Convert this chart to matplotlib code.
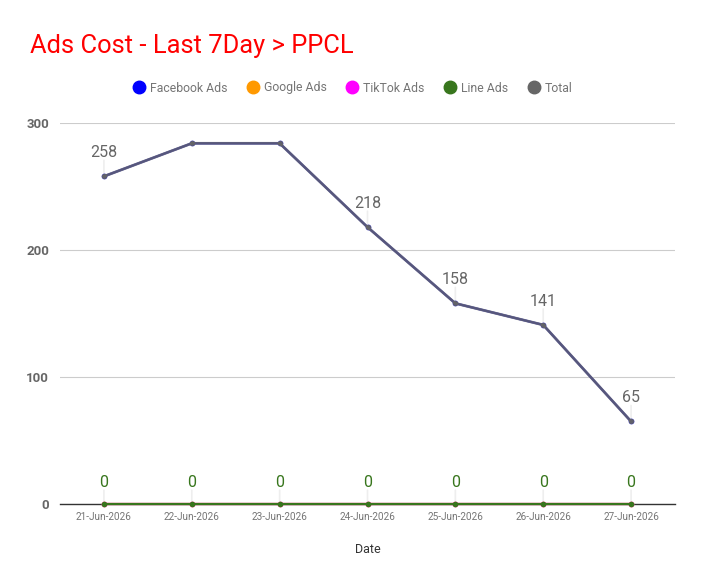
import matplotlib
matplotlib.use("Agg")
import matplotlib.pyplot as plt
from matplotlib.lines import Line2D

plt.rcParams['font.family'] = ['Roboto', 'DejaVu Sans']

dates = ["21-Jun-2026", "22-Jun-2026", "23-Jun-2026", "24-Jun-2026",
         "25-Jun-2026", "26-Jun-2026", "27-Jun-2026"]
facebook = [258, 284, 284, 218, 158, 141, 65]
google = [0, 0, 0, 0, 0, 0, 0]
tiktok = [0, 0, 0, 0, 0, 0, 0]
line_ads = [0, 0, 0, 0, 0, 0, 0]
total = [258, 284, 284, 218, 158, 141, 65]
total_labels = ["258", "", "", "218", "158", "141", "65"]
line_labels = ["0", "0", "0", "0", "0", "0", "0"]

series_names = ["Facebook Ads", "Google Ads", "TikTok Ads", "Line Ads", "Total"]
series_colors = ["#0000ff", "#ff9900", "#ff00ff", "#38761d", "#666666"]

fig = plt.figure(figsize=(7.04, 5.85), dpi=100)
ax = fig.add_axes([60/704, 81/585, 615/704, 381/585])

x = list(range(len(dates)))

ax.plot(x, facebook, color=series_colors[0], lw=1.6, marker='o', ms=3, zorder=3, clip_on=False)
ax.plot(x, google, color=series_colors[1], lw=1.6, marker='o', ms=3, zorder=3, clip_on=False)
ax.plot(x, tiktok, color=series_colors[2], lw=1.6, marker='o', ms=3, zorder=3, clip_on=False)
ax.plot(x, line_ads, color=series_colors[3], lw=1.6, marker='o', ms=3, zorder=4, clip_on=False)
ax.plot(x, total, color=series_colors[4], lw=2, marker='o', ms=3, alpha=0.85, zorder=4, clip_on=False)

# data labels with leader lines
for xi, v, lab in zip(x, total, total_labels):
    if lab:
        ax.annotate("", xy=(xi, v), xytext=(0, 11.5), textcoords='offset points',
                    arrowprops=dict(arrowstyle='-', color='#eeeeee', lw=1.2,
                                    shrinkA=0, shrinkB=0), zorder=2)
        ax.annotate(lab, xy=(xi, v), xytext=(0, 11.5), textcoords='offset points',
                    ha='center', va='bottom', fontsize=11.5, color='#666666')
for xi, v, lab in zip(x, line_ads, line_labels):
    ax.annotate("", xy=(xi, v), xytext=(0, 10), textcoords='offset points',
                arrowprops=dict(arrowstyle='-', color='#eeeeee', lw=1.2,
                                shrinkA=0, shrinkB=0), zorder=2)
    ax.annotate(lab, xy=(xi, v), xytext=(0, 10), textcoords='offset points',
                ha='center', va='bottom', fontsize=11.5, color='#38761d')

ax.set_xlim(-0.5, len(dates) - 0.5)
ax.set_ylim(0, 300)
ax.set_yticks([0, 100, 200, 300])
ax.set_xticks(x)
ax.set_xticklabels(dates, fontsize=7.2, color='#757575')
for lab in ax.get_yticklabels():
    lab.set_fontweight('bold')
ax.tick_params(axis='y', labelsize=9.5, labelcolor='#666666', length=0, pad=8)
ax.tick_params(axis='x', length=0, pad=6)
ax.grid(axis='y', color='#cccccc', lw=0.8)
ax.set_axisbelow(True)
for s in ['top', 'right', 'left']:
    ax.spines[s].set_visible(False)
ax.spines['bottom'].set_color('#333333')
ax.spines['bottom'].set_linewidth(1)
ax.spines['bottom'].set_zorder(1)

ax.set_xlabel("Date", fontsize=9, color='#333333', labelpad=15)

fig.text(30/704, 1 - 46/585, "Ads Cost - Last 7Day > PPCL", fontsize=18.4,
         color='#ff0000', ha='left', va='center')

handles = [Line2D([0], [0], marker='o', color='none', markerfacecolor=c,
                  markeredgecolor=c, markersize=9) for c in series_colors]
fig.legend(handles, series_names, loc='center', bbox_to_anchor=(352/704, 1 - 88/585),
           ncol=5, frameon=False, fontsize=8.8, labelcolor='#757575',
           handletextpad=0.3, columnspacing=1.5, handlelength=1.2)

fig.savefig("out.png", dpi=100, facecolor='white')
